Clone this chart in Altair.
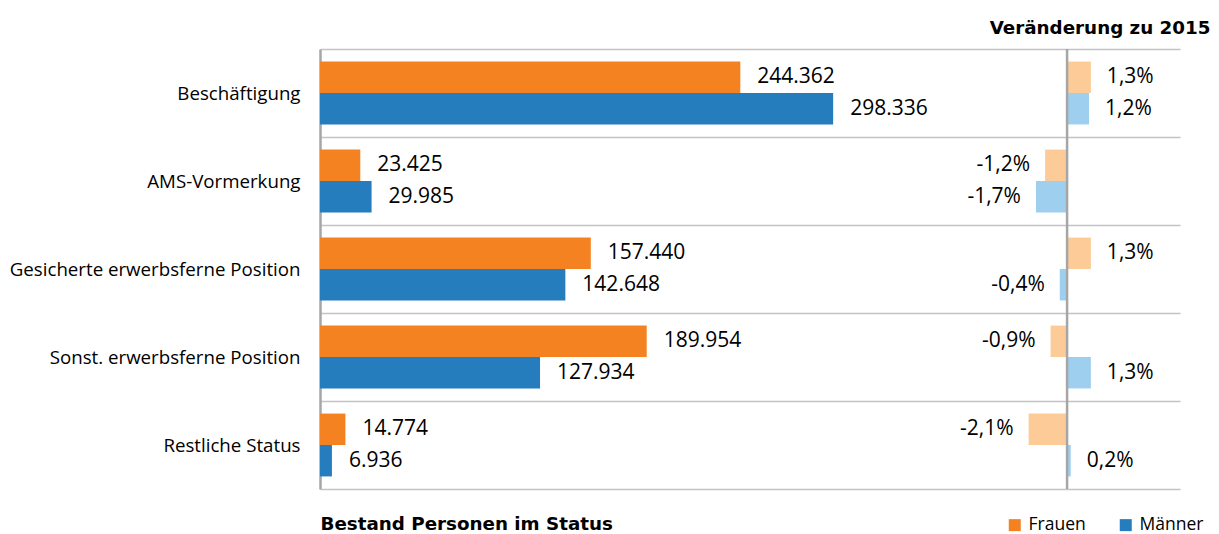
import altair as alt
import pandas as pd

categories = ["Beschäftigung", "AMS-Vormerkung", "Gesicherte erwerbsferne Position",
              "Sonst. erwerbsferne Position", "Restliche Status"]
frauen = [244362, 23425, 157440, 189954, 14774]
maenner = [298336, 29985, 142648, 127934, 6936]
chg_frauen = [1.3, -1.2, 1.3, -0.9, -2.1]
chg_maenner = [1.2, -1.7, -0.4, 1.3, 0.2]
series = ["Frauen", "Männer"]

FONT = "Open Sans"
BOLD_FONT = "DejaVu Sans"
NUM_SIZE = 21
BOLD_SIZE = 18.3


def fmt_int(v):
    return f"{v:,}".replace(",", ".")


def fmt_pct(v):
    return f"{v:.1f}".replace(".", ",") + "%"


rows = []
for i, c in enumerate(categories):
    for s, vals, chg in (("Frauen", frauen, chg_frauen), ("Männer", maenner, chg_maenner)):
        rows.append({
            "cat": c, "sex": s, "value": vals[i], "label": fmt_int(vals[i]),
            "chg": chg[i], "chglabel": fmt_pct(chg[i]), "sex2": s + " ",
        })
df = pd.DataFrame(rows)

y_enc = alt.Y("cat:N", sort=categories,
              scale=alt.Scale(paddingInner=0, paddingOuter=0),
              axis=alt.Axis(title=None, tickBand="extent", grid=True, gridColor="#C4C4C4",
                            gridWidth=1.5, ticks=False, domainColor="#A6A6A6", domainWidth=2.5,
                            labelPadding=20, labelFontSize=18.7, labelFont=FONT,
                            labelColor="#000000", labelLimit=400))
yoff = alt.YOffset("sex:N", sort=series, scale=alt.Scale(paddingOuter=0.4, paddingInner=0))

base = alt.Chart(df)

xl = alt.X("value:Q", scale=alt.Scale(domain=[0, 500000], nice=False, zero=True),
           axis=alt.Axis(orient="bottom", labels=False, ticks=False, domain=False, grid=False,
                         title="Bestand Personen im Status", titleFont=BOLD_FONT,
                         titleFontSize=BOLD_SIZE, titleFontWeight="bold", titleColor="#000000",
                         titleAnchor="start", titleAlign="left", titleX=0, titleY=35,
                         titleBaseline="middle"))

left_bars = base.mark_bar().encode(
    x=xl, y=y_enc, yOffset=yoff,
    color=alt.Color("sex:N", sort=series,
                    scale=alt.Scale(domain=series, range=["#F58220", "#257DBD"]),
                    legend=alt.Legend(title=None, orient="none", direction="horizontal",
                                      legendX=686, legendY=467, symbolType="square",
                                      symbolSize=144, symbolStrokeWidth=0, labelFontSize=17.5,
                                      labelFont=FONT, labelColor="#000000", labelOffset=5,
                                      columnPadding=31, padding=0)),
)
left_text = base.mark_text(align="left", baseline="middle", dx=17, fontSize=NUM_SIZE,
                           font=FONT, color="#000000").encode(
    x=alt.X("value:Q"), y=alt.Y("cat:N", sort=categories), yOffset=yoff, text="label:N")

left = alt.layer(left_bars, left_text)

xr_scale = alt.Scale(domain=[-40.82, 6.17], nice=False, zero=False)
xr = alt.X("chg:Q", scale=xr_scale,
           axis=alt.Axis(orient="top", labels=False, ticks=False, domain=False, grid=False,
                         title="Veränderung zu 2015", titleFont=BOLD_FONT, titleFontSize=BOLD_SIZE,
                         titleFontWeight="bold", titleColor="#000000", titleAnchor="end",
                         titleAlign="right", titleX=890, titleY=-21, titleBaseline="middle"))

right_bars = base.mark_bar().encode(
    x=xr, y=alt.Y("cat:N", sort=categories), yOffset=yoff,
    color=alt.Color("sex2:N", scale=alt.Scale(domain=["Frauen ", "Männer "],
                                              range=["#FCCB97", "#9ECFEE"]), legend=None),
)
right_pos = base.transform_filter("datum.chg >= 0").mark_text(
    align="left", baseline="middle", dx=16, fontSize=NUM_SIZE, font=FONT, color="#000000").encode(
    x=alt.X("chg:Q"), y=alt.Y("cat:N", sort=categories), yOffset=yoff, text="chglabel:N")
right_neg = base.transform_filter("datum.chg < 0").mark_text(
    align="right", baseline="middle", dx=-15, fontSize=NUM_SIZE, font=FONT, color="#000000").encode(
    x=alt.X("chg:Q"), y=alt.Y("cat:N", sort=categories), yOffset=yoff, text="chglabel:N")
zero_rule = alt.Chart(pd.DataFrame({"z": [0.0]})).mark_rule(
    color="#A6A6A6", strokeWidth=2.5).encode(x=alt.X("z:Q", scale=xr_scale))

right = alt.layer(right_bars, zero_rule, right_pos, right_neg)

chart = alt.layer(left, right).resolve_scale(x="independent", color="independent").properties(
    width=860, height=440,
    background="white",
    autosize=alt.AutoSizeParams(type="none"),
    padding={"left": 312, "top": 41, "right": 31, "bottom": 70},
).configure_view(strokeWidth=0, stroke="transparent")

chart.save("out.html", embed_options={"renderer": "svg", "actions": False})
